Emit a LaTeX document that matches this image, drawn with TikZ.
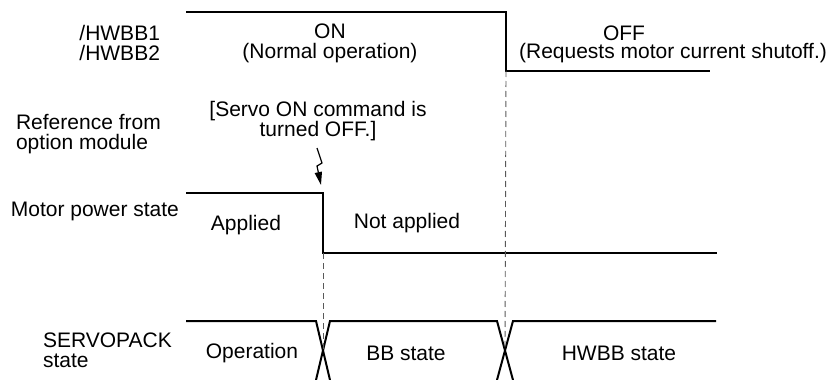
\documentclass[tikz,border=0pt]{standalone}
\usepackage{fontspec}
\setmainfont{Liberation Sans}
\usetikzlibrary{arrows.meta}

\begin{document}
\begin{tikzpicture}[x=0.5pt,y=-0.5pt,
  font=\fontsize{10.5}{10}\selectfont,
  wave/.style={line width=1pt},
  guide/.style={gray!70!black,line width=0.45pt,dash pattern=on 3pt off 2pt}]
\useasboundingbox (0,0) rectangle (832,380);

% Edges in time
\coordinate (hwbbfall) at (506,12);
\coordinate (hwbblow) at (506,71);
\coordinate (motorfall) at (323,193);
\coordinate (motorlow) at (323,253);
\coordinate (xone) at (323,350);
\coordinate (xtwo) at (505,350);
\coordinate (cmdtip) at (321,185);

% /HWBB signals
\node[anchor=east,align=right] (hwbbname) at (167,43) {/HWBB1\\/HWBB2};
\draw[wave] (186,12) -- (hwbbfall) -- (hwbblow) -- (710,71);
\node[align=center] (onlabel) at (330,43) {ON\\(Normal operation)};
\node (offlabel) at (624,33) {OFF};
\node (offnote) at (673,53) {(Requests motor current shutoff.)};

% Reference from option module
\node[anchor=west,align=left] (refname) at (9,134) {Reference from\\option module};
\node[align=center] (cmdnote) at (318,121) {[Servo ON command is\\turned OFF.]};
\draw[line width=0.6pt,-{Triangle[length=6.5pt,width=3.6pt]}]
  (317,148) -- (322,163) -- (317,166) -- (cmdtip);

% Motor power state
\node[anchor=east] (motorname) at (186,211) {Motor power state};
\draw[wave] (186,193) -- (motorfall) -- (motorlow) -- (717,253);
\node (applied) at (246,225) {Applied};
\node (notapplied) at (407,223) {Not applied};

% SERVOPACK state
\node[anchor=west,align=left] (packname) at (36,350) {SERVOPACK\\state};
\draw[wave] (186,321) -- (316,321) -- (330,380);
\draw[wave] (316,380) -- (330,321) -- (497,321) -- (513,380);
\draw[wave] (497,380) -- (513,321) -- (716,321);
\node (operation) at (252,353) {Operation};
\node (bbstate) at (406,353) {BB state};
\node (hwbbstate) at (619,353) {HWBB state};

% Timing guides
\draw[guide] (hwbblow) -- (xtwo);
\draw[guide] (motorlow) -- (xone);
\end{tikzpicture}
\end{document}
